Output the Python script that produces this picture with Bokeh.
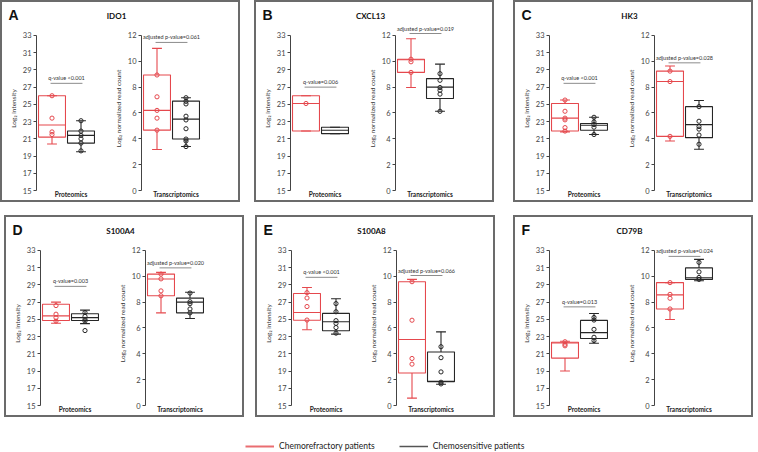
from bokeh.plotting import figure
from bokeh.layouts import row, column
from bokeh.models import FixedTicker, Label, Legend, LegendItem, Range1d
from bokeh.embed import file_html
from bokeh.resources import INLINE

# ---------------- data ----------------
letters = ["A", "B", "C", "D", "E", "F"]
genes = ["IDO1", "CXCL13", "HK3", "S100A4", "S100A8", "CD79B"]
q_labels = ["q-value <0.001", "q-value=0.006", "q-value <0.001",
            "q-value=0.003", "q-value <0.001", "q-value=0.013"]
p_labels = ["adjusted p-value=0.061", "adjusted p-value=0.019", "adjusted p-value=0.028",
            "adjusted p-value=0.020", "adjusted p-value=0.066", "adjusted p-value=0.024"]
legend_labels = ["Chemorefractory patients", "Chemosensitive patients"]
subplot_names = ["Proteomics", "Transcriptomics"]
prot_ticks = [15, 17, 19, 21, 23, 25, 27, 29, 31, 33]
trans_ticks = [0, 2, 4, 6, 8, 10, 12]

# box statistics: [low whisker, Q1, median, Q3, high whisker]
prot_refr_box = [
    [20.4, 21.2, 22.6, 26.0, 26.0],
    [21.9, 21.9, 25.1, 26.0, 26.0],
    [21.8, 21.9, 23.4, 25.1, 25.5],
    [24.55, 24.86, 25.4, 26.75, 27.0],
    [23.8, 24.9, 25.8, 28.0, 28.7],
    [19.0, 20.5, 22.25, 22.35, 22.45],
]
prot_sens_box = [
    [19.5, 20.5, 21.4, 21.9, 23.1],
    [21.6, 21.6, 22.0, 22.35, 22.35],
    [21.5, 22.0, 22.58, 22.77, 23.5],
    [24.5, 24.86, 25.2, 25.65, 26.07],
    [23.29, 23.67, 24.73, 25.69, 27.4],
    [22.23, 22.77, 23.46, 24.88, 25.68],
]
prot_refr_pts = [
    [26.0, 23.4, 21.8, 21.5],
    [25.1],
    [25.5, 24.2, 23.4, 23.2, 22.3, 21.9],
    [26.6, 25.6, 25.2, 24.8],
    [28.1, 27.48, 26.49, 24.92],
    [22.4, 22.1, 21.93],
]
prot_sens_pts = [
    [23.1, 21.9, 21.4, 21.0, 20.5, 19.6],
    [],
    [23.5, 22.96, 22.66, 22.35, 21.5],
    [25.8, 25.35, 25.0, 24.8, 23.7],
    [26.83, 25.88, 24.85, 24.54, 24.05, 23.4],
    [25.22, 24.92, 23.84, 22.92, 22.54],
]
trans_refr_box = [
    [3.17, 4.67, 6.2, 8.94, 11.0],
    [7.97, 9.14, 10.12, 10.16, 11.74],
    [3.83, 4.19, 8.43, 9.24, 9.63],
    [7.17, 8.49, 9.79, 10.17, 10.3],
    [0.57, 2.51, 5.11, 9.58, 9.76],
    [6.66, 7.47, 8.56, 9.51, 9.51],
]
trans_sens_box = [
    [3.4, 3.98, 5.52, 6.92, 7.18],
    [6.13, 7.12, 8.0, 8.66, 9.78],
    [3.19, 4.09, 5.1, 6.49, 6.97],
    [6.73, 7.17, 8.0, 8.31, 8.77],
    [1.64, 1.85, 1.87, 4.14, 5.7],
    [9.66, 9.76, 9.89, 10.65, 11.31],
]
trans_refr_pts = [
    [8.94, 7.25, 6.2, 5.6, 4.67],
    [10.16, 9.96, 9.14],
    [9.24, 8.43, 4.19],
    [10.17, 9.8, 8.87, 8.49],
    [9.58, 6.6, 3.64, 3.2],
    [9.51, 8.6, 8.3, 7.47],
]
trans_sens_pts = [
    [7.18, 6.9, 6.7, 5.75, 5.46, 4.78, 3.98, 3.83, 3.4],
    [9.04, 8.53, 7.97, 7.76, 7.46, 6.13],
    [6.49, 5.36, 4.95, 4.75, 4.29, 3.58],
    [8.7, 8.03, 7.88, 7.47, 7.17],
    [4.55, 3.7, 2.6, 1.8, 1.67],
    [11.08, 10.34, 9.91, 9.76],
]

# ------------- annotation placement (positions, not data) -------------
q_line_y = [27.44, 27.0, 27.44, 28.83, 29.88, 26.45]
p_line_y = [11.46, 12.15, 9.88, 10.65, 10.06, 11.54]
panel_margin_left = [0, 14, 19, 4, 11, 18]

# ---------------- style ----------------
RED = "#e5484d"
BLK = "#262626"
GREY = "#8c8c8c"
AXC = "#444444"
FONT = "Lato"

PANEL_W = 236
HEAD_H = 24
SCALE_PX = 156       # pixels between lowest and highest tick
HEADROOM = 9         # pixels of plot area above the highest tick
FIG_TOP = 0
FIG_BOTTOM = 9
FIG_H = FIG_TOP + HEADROOM + SCALE_PX + FIG_BOTTOM
PROT_W, PROT_LEFT, PROT_RIGHT = 103, 34, 0
TRANS_W, TRANS_LEFT, TRANS_RIGHT = 133, 36, 28
PX = 29.0
X0 = 1 - 15.5 / PX
BOX_W = 0.93
CAP_W = 0.34
CATS = [1, 2]


def add_box(p, xc, stats, pts, color):
    lo, q1, med, q3, hi = stats
    half = BOX_W / 2
    p.quad(left=[xc - half], right=[xc + half], bottom=[q1], top=[q3],
           fill_color=None, line_color=color, line_width=1.1)
    p.segment(x0=[xc - half, xc, xc, xc - CAP_W / 2, xc - CAP_W / 2],
              x1=[xc + half, xc, xc, xc + CAP_W / 2, xc + CAP_W / 2],
              y0=[med, q3, q1, hi, lo], y1=[med, hi, lo, hi, lo],
              line_color=color, line_width=1.1)
    p.scatter(x=[xc] * len(pts), y=list(pts), marker="circle", size=4.2,
              fill_color=None, line_color=color, line_width=1)


def subplot(width, left, right, ticks, ylabel, xlabel,
            rbox, sbox, rpts, spts, line_y, ptxt):
    frame_w = width - left - right
    span = ticks[-1] - ticks[0]
    y_top = ticks[-1] + HEADROOM * span / SCALE_PX
    p = figure(width=width, height=FIG_H,
               x_range=Range1d(X0, X0 + frame_w / PX),
               y_range=Range1d(ticks[0], y_top),
               output_backend="svg", toolbar_location=None,
               min_border_left=left, min_border_right=right,
               min_border_top=FIG_TOP, min_border_bottom=FIG_BOTTOM)
    p.xgrid.visible = False
    p.ygrid.visible = False
    p.outline_line_color = None

    xa = p.xaxis[0]
    xa.ticker = FixedTicker(ticks=[])
    xa.axis_line_color = None
    xa.major_tick_line_color = None
    xa.minor_tick_line_color = None
    xa.major_tick_out = 0
    xa.major_tick_in = 0
    xa.minor_tick_out = 0
    xa.minor_tick_in = 0
    xa.major_label_text_font_size = "0px"
    xa.major_label_standoff = 0
    xa.axis_label = xlabel
    xa.axis_label_standoff = 0
    xa.axis_label_text_font = FONT
    xa.axis_label_text_font_size = "6.5px"
    xa.axis_label_text_font_style = "bold"
    xa.axis_label_text_color = "#222222"

    ax = p.yaxis[0]
    ax.ticker = FixedTicker(ticks=ticks)
    ax.bounds = (ticks[0], ticks[-1])
    ax.axis_label = ylabel
    ax.axis_label_text_font = FONT
    ax.axis_label_text_font_size = "6.5px"
    ax.axis_label_text_font_style = "normal"
    ax.axis_label_text_color = "#333333"
    ax.axis_label_standoff = 3
    ax.major_label_text_font = FONT
    ax.major_label_text_font_size = "7.5px"
    ax.major_label_text_color = AXC
    ax.major_label_standoff = 2
    ax.major_tick_out = 3
    ax.major_tick_in = 0
    ax.minor_tick_line_color = None
    ax.axis_line_color = AXC
    ax.major_tick_line_color = AXC

    add_box(p, CATS[0], rbox, rpts, RED)
    add_box(p, CATS[1], sbox, spts, BLK)

    p.segment(x0=[0.95], x1=[2.05], y0=[line_y], y1=[line_y],
              line_color=GREY, line_width=1)
    p.add_layout(Label(x=1.5, y=line_y, y_offset=5, text=ptxt,
                       text_align="center", text_baseline="middle",
                       text_font=FONT, text_font_size="5.5px", text_color="#333333"))
    return p


panels = []
for i in range(6):
    h = figure(width=PANEL_W, height=HEAD_H, x_range=Range1d(0, PANEL_W),
               y_range=Range1d(0, HEAD_H), output_backend="svg",
               toolbar_location=None, x_axis_location=None, y_axis_location=None,
               min_border=0)
    h.grid.visible = False
    h.outline_line_color = None
    h.add_layout(Label(x=6, y=HEAD_H - 12, text=letters[i], text_baseline="middle",
                       text_font="Liberation Sans", text_font_size="14px",
                       text_font_style="bold", text_color="#111111"))
    h.add_layout(Label(x=114, y=HEAD_H - 13, text=genes[i], text_align="center",
                       text_baseline="middle", text_font=FONT, text_font_size="8px",
                       text_font_style="bold", text_color="#111111"))

    pp = subplot(PROT_W, PROT_LEFT, PROT_RIGHT, prot_ticks,
                 "Log\u2082 intensity", subplot_names[0],
                 prot_refr_box[i], prot_sens_box[i], prot_refr_pts[i], prot_sens_pts[i],
                 q_line_y[i], q_labels[i])
    pt = subplot(TRANS_W, TRANS_LEFT, TRANS_RIGHT, trans_ticks,
                 "Log\u2082 normalized read count", subplot_names[1],
                 trans_refr_box[i], trans_sens_box[i], trans_refr_pts[i], trans_sens_pts[i],
                 p_line_y[i], p_labels[i])
    panel = column(h, row(pp, pt), styles={"border": "2px solid #6b6b6b"},
                   margin=(0, 0, 0, panel_margin_left[i]))
    panels.append(panel)

lg = figure(width=650, height=34, x_range=Range1d(0, 1), y_range=Range1d(0, 1),
            output_backend="svg", toolbar_location=None,
            x_axis_location=None, y_axis_location=None,
            min_border_left=245, min_border_right=0, min_border_top=24, min_border_bottom=0)
lg.grid.visible = False
lg.outline_line_color = None
nan = float("nan")
r1 = lg.line(x=[nan], y=[nan], line_color=RED, line_width=2, line_alpha=0.8)
r2 = lg.line(x=[nan], y=[nan], line_color="#555555", line_width=1.5)
leg = Legend(items=[LegendItem(label=legend_labels[0], renderers=[r1]),
                    LegendItem(label=legend_labels[1], renderers=[r2])],
             orientation="horizontal", location="top_left",
             glyph_width=29, glyph_height=10, label_standoff=5, spacing=24,
             padding=0, margin=0, border_line_color=None, background_fill_alpha=0,
             label_text_font=FONT, label_text_font_size="8.5px", label_height=10,
             label_text_color="#222222")
lg.add_layout(leg)

root = column(row(*panels[:3]), row(*panels[3:], margin=(13, 0, 0, 0)), lg,
              styles={"margin": "0px -8px -8px 0px"})

open("out.html", "w").write(file_html(root, INLINE))
